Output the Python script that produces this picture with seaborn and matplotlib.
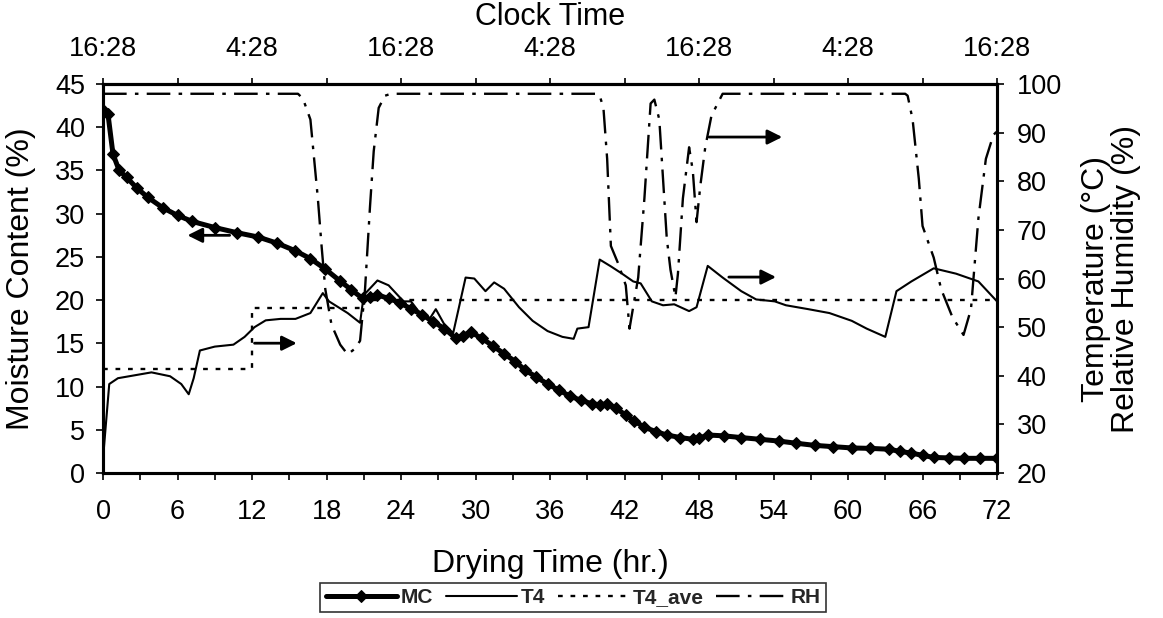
import matplotlib
matplotlib.use("Agg")
import matplotlib.pyplot as plt
import seaborn as sns
import pandas as pd
from matplotlib.ticker import MultipleLocator

# ---------------- data ----------------
mc_hours = [0, 0.4, 0.8, 1.3, 1.9, 2.7, 3.6, 4.8, 6.0, 7.2,
            9.0, 10.8, 12.5, 14.0, 15.5, 16.7, 17.9, 19.1, 20.0, 20.9,
            21.5, 22.1, 23.0, 23.9, 24.8, 25.7, 26.6, 27.5, 28.4, 29.0,
            29.6, 30.5, 31.4, 32.3, 33.2, 34.0, 34.9, 35.8, 36.7, 37.6,
            38.5, 39.4, 40.0, 40.6, 41.3, 42.1, 42.8, 43.6, 44.5, 45.4,
            46.5, 47.5, 48.0, 48.7, 50.0, 51.4, 52.9, 54.4, 55.8, 57.3,
            58.8, 60.3, 61.8, 63.3, 64.2, 65.1, 66.0, 66.9, 68.1, 69.3,
            70.6, 72.0]
mc_values = [42.0, 41.5, 36.9, 35.0, 34.2, 33.0, 31.9, 30.7, 29.8, 29.1,
             28.4, 27.8, 27.3, 26.6, 25.7, 24.8, 23.6, 22.2, 21.2, 20.2,
             20.4, 20.6, 20.2, 19.7, 19.0, 18.3, 17.5, 16.7, 15.6, 15.9,
             16.3, 15.6, 14.7, 13.8, 12.9, 11.9, 11.1, 10.3, 9.6, 8.9,
             8.4, 8.0, 7.9, 8.0, 7.5, 6.7, 6.0, 5.3, 4.8, 4.4,
             4.1, 3.9, 4.0, 4.4, 4.3, 4.1, 3.9, 3.7, 3.45, 3.2,
             3.05, 2.9, 2.85, 2.75, 2.5, 2.3, 2.05, 1.8, 1.75, 1.7,
             1.7, 1.7]

t4_hours = [0, 0.5, 1.2, 3.0, 3.9, 5.4, 6.3, 6.9, 7.3, 7.8,
            9.0, 10.5, 11.4, 12.2, 13.1, 14.3, 15.5, 16.7, 17.7, 18.2,
            19.7, 20.7, 21.0, 22.1, 23.0, 24.2, 24.8, 25.4, 26.3, 26.8,
            27.5, 28.2, 29.2, 29.9, 30.8, 31.5, 32.3, 33.5, 34.6, 35.8,
            37.0, 37.9, 38.2, 39.1, 40.0, 40.9, 41.8, 42.7, 43.3, 44.2,
            45.1, 46.0, 47.2, 47.8, 48.7, 49.9, 51.4, 52.6, 54.1, 55.0,
            56.8, 58.5, 60.3, 61.5, 63.0, 63.9, 65.1, 66.9, 68.7, 70.5,
            72.0]
t4_values = [23.0, 38.3, 39.5, 40.3, 40.7, 39.9, 38.3, 36.2, 39.5, 45.2,
             46.0, 46.4, 48.0, 50.0, 51.4, 51.7, 51.7, 52.9, 57.0, 55.3,
             52.9, 50.9, 56.6, 59.6, 58.6, 55.3, 55.3, 53.3, 51.7, 53.7,
             50.5, 48.8, 60.2, 60.0, 57.4, 59.2, 57.9, 54.1, 51.3, 49.2,
             48.0, 47.6, 49.7, 50.0, 63.9, 62.5, 61.0, 59.4, 59.0, 55.3,
             54.5, 54.7, 53.3, 54.1, 62.6, 60.2, 57.4, 55.7, 55.3, 54.5,
             53.7, 52.9, 51.3, 49.7, 48.0, 57.4, 59.4, 62.1, 61.0, 59.4,
             55.3]

t4ave_hours = [0, 12, 21, 72]
t4ave_values = [41.3, 54.0, 55.6, 55.6]

rh_hours = [0, 15.7, 16.1, 16.7, 17.0, 17.3, 17.6, 17.9, 18.4, 19.1,
            19.7, 20.3, 20.7, 21.1, 21.5, 21.8, 22.2, 22.7, 23.2, 39.8,
            40.0, 40.3, 40.6, 40.9, 41.5, 42.1, 42.4, 43.1, 43.6, 44.1,
            44.4, 44.8, 45.1, 45.4, 45.7, 46.1, 46.3, 46.7, 47.2, 47.5,
            47.8, 48.1, 48.5, 49.0, 49.9, 64.6, 64.8, 65.2, 65.7, 66.0,
            66.9, 67.5, 68.4, 69.3, 69.9, 70.5, 71.1, 71.7, 72.0]
rh_values = [98, 98, 97, 92.7, 84.6, 76.5, 66.7, 57.8, 50.5, 46.4,
             44.4, 45.6, 47.2, 57.8, 74.8, 86.2, 95.1, 97.6, 98, 98,
             97.6, 95.1, 84.6, 66.7, 63.0, 58.6, 49.7, 60.2, 76.5, 96.0,
             96.8, 92.7, 80.5, 68.3, 61.8, 56.2, 61.0, 76.5, 87.0, 82.1,
             71.6, 79.0, 87.0, 93.5, 98, 98, 97.6, 92.7, 80.5, 70.8,
             64.3, 57.8, 52.1, 48.4, 53.7, 72.4, 84.6, 89.5, 90.3]

drying_ticks = list(range(0, 73, 6))
clock_ticks = [0, 12, 24, 36, 48, 60, 72]
clock_labels = ["16:28", "4:28", "16:28", "4:28", "16:28", "4:28", "16:28"]

# annotation arrows: (axis, tail_x, tail_y, head_x, head_y)
arrows = [("left", 10.2, 27.5, 6.8, 27.5),
          ("right", 12.2, 46.7, 15.6, 46.7),
          ("right", 48.8, 89.1, 54.7, 89.1),
          ("right", 50.4, 60.3, 54.2, 60.3)]

# ---------------- style ----------------
sns.set_theme(style="white")
plt.rcParams["font.family"] = ["Liberation Sans", "DejaVu Sans"]
plt.rcParams["axes.edgecolor"] = "black"

TICK_FS = 19.5
LABEL_FS = 23

fig = plt.figure(figsize=(11.63, 6.18), dpi=100)
ax = fig.add_axes([0.0886, 0.2346, 0.7687, 0.6294])
ax2 = ax.twinx()

mc_df = pd.DataFrame({"h": mc_hours, "v": mc_values})
t4_df = pd.DataFrame({"h": t4_hours, "v": t4_values})
ta_df = pd.DataFrame({"h": t4ave_hours, "v": t4ave_values})
rh_df = pd.DataFrame({"h": rh_hours, "v": rh_values})

sns.lineplot(data=mc_df, x="h", y="v", ax=ax, color="black", lw=3.6,
             marker="D", markersize=6.5, markeredgecolor="black",
             estimator=None, sort=False, label="MC", legend=False)
sns.lineplot(data=t4_df, x="h", y="v", ax=ax2, color="black", lw=1.5,
             estimator=None, sort=False, label="T4", legend=False)
sns.lineplot(data=ta_df, x="h", y="v", ax=ax2, color="black", lw=1.7,
             linestyle=(0, (2, 3.3)), drawstyle="steps-post",
             estimator=None, sort=False, label="T4_ave", legend=False)
sns.lineplot(data=rh_df, x="h", y="v", ax=ax2, color="black", lw=1.7,
             linestyle=(0, (10, 3.5, 1.5, 3.5)),
             estimator=None, sort=False, label="RH", legend=False)

ax.set_xlim(0, 72)
ax.set_ylim(0, 45)
ax2.set_ylim(20, 100)
ax.set_xticks(drying_ticks)
ax.xaxis.set_minor_locator(MultipleLocator(3))
ax.yaxis.set_major_locator(MultipleLocator(5))
ax2.yaxis.set_major_locator(MultipleLocator(10))

for a in (ax, ax2):
    for s in a.spines.values():
        s.set_linewidth(2.2)
        s.set_color("black")

ax.tick_params(axis="x", which="both", direction="out", length=5, width=1.2,
               colors="black", labelsize=TICK_FS, pad=14, bottom=True)
ax.tick_params(axis="y", direction="out", length=5, width=1.2,
               colors="black", labelsize=TICK_FS, pad=8, left=True)
ax2.tick_params(axis="y", direction="out", length=5, width=1.2,
                colors="black", labelsize=TICK_FS, pad=9, right=True)

sec = ax.secondary_xaxis("top")
sec.set_xticks(clock_ticks, labels=clock_labels)
sec.set_xticks(drying_ticks, minor=True)
sec.tick_params(axis="x", which="both", direction="out", length=4, width=1.2,
                colors="black", labelsize=TICK_FS, pad=12)
sec.spines["top"].set_linewidth(2.2)
fig.text(0.473, 0.972, "Clock Time", fontsize=22, color="black",
         ha="center", va="center")

ax.set_xlabel("Drying Time (hr.)", fontsize=LABEL_FS, color="black")
ax.xaxis.set_label_coords(0.5, -0.195)
ax.set_ylabel("Moisture Content (%)", fontsize=LABEL_FS, color="black")
ax.yaxis.set_label_coords(-0.075, 0.5)
ax2.set_ylabel("Temperature (°C)\nRelative Humidity (%)", fontsize=LABEL_FS,
               color="black", linespacing=1.0)
ax2.yaxis.set_label_coords(1.094, 0.5)

for which, x0, y0, x1, y1 in arrows:
    target = ax if which == "left" else ax2
    target.annotate("", xy=(x1, y1), xytext=(x0, y0),
                    arrowprops=dict(arrowstyle="-|>", color="black", lw=2.0,
                                    mutation_scale=22, shrinkA=0, shrinkB=0))

handles = ax.get_lines()[:1] + ax2.get_lines()[:3]
leg = fig.legend(handles, ["MC", "T4", "T4_ave", "RH"], ncol=4,
                 loc="center", bbox_to_anchor=(0.493, 0.033),
                 frameon=True, fancybox=False, edgecolor="black",
                 handlelength=3.4, handletextpad=0.2, columnspacing=0.6,
                 borderpad=0.25, numpoints=1,
                 prop={"size": 15, "weight": "bold"})
leg.get_frame().set_linewidth(1.2)

fig.savefig("out.png", dpi=100)
